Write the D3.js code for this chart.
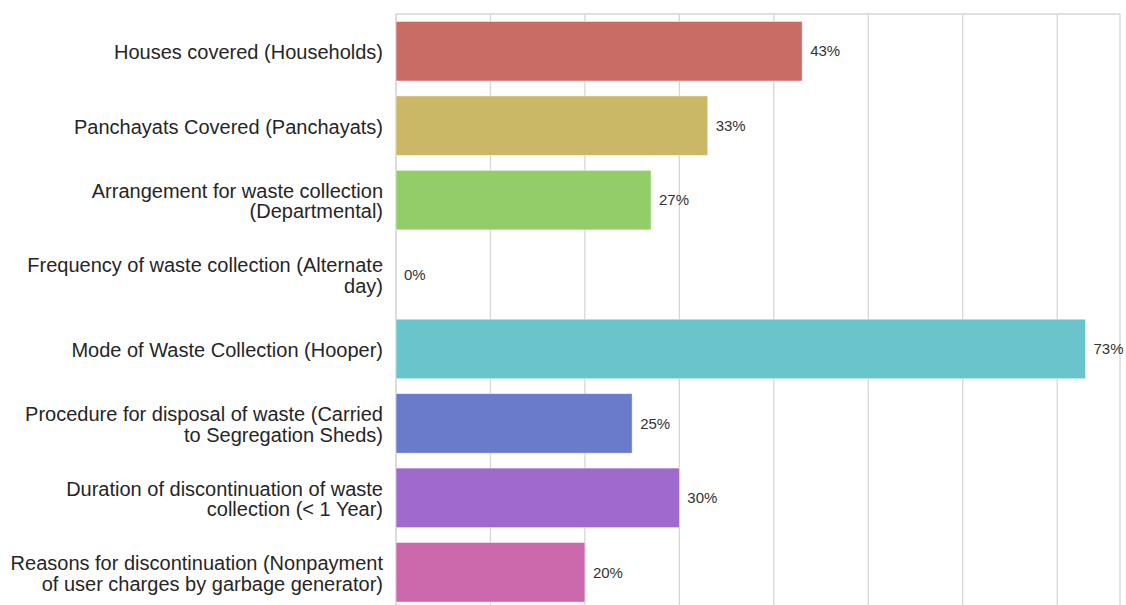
<!DOCTYPE html>
<html><head><meta charset="utf-8">
<script src="https://cdn.jsdelivr.net/npm/d3@7"></script>
<style>body{margin:0;background:#fff;} svg{display:block;}</style>
</head><body>
<svg id="chart" width="1126" height="605"></svg>
<script>
const categories = [
  ["Houses covered (Households)"],
  ["Panchayats Covered (Panchayats)"],
  ["Arrangement for waste collection", "(Departmental)"],
  ["Frequency of waste collection (Alternate", "day)"],
  ["Mode of Waste Collection (Hooper)"],
  ["Procedure for disposal of waste (Carried", "to Segregation Sheds)"],
  ["Duration of discontinuation of waste", "collection (< 1 Year)"],
  ["Reasons for discontinuation (Nonpayment", "of user charges by garbage generator)"]
];
const values = [43, 33, 27, 0, 73, 25, 30, 20];
const valueLabels = ["43%", "33%", "27%", "0%", "73%", "25%", "30%", "20%"];
const colors = ["#c96c66", "#cab866", "#93cd69", "#66cc8a", "#69c5cb", "#6a7bcc", "#a06acc", "#cb67ab"];
const xTicks = [0, 10, 20, 30, 40, 50, 60, 70];

const svg = d3.select("#chart");
const mLeft = 396, mRight = 1120, mTop = 14, mBottom = 609.5;
const x = d3.scaleLinear().domain([0, 76.65]).range([mLeft, mRight]);
const y = d3.scaleBand().domain(d3.range(categories.length)).range([mTop, mBottom]).paddingInner(0.2).paddingOuter(0.1);

// grid
svg.append("g").selectAll("line").data(xTicks).join("line")
  .attr("x1", d => x(d)).attr("x2", d => x(d))
  .attr("y1", mTop).attr("y2", 605)
  .attr("stroke", "#d6d6d6").attr("stroke-width", 1.3);

// frame
svg.append("line").attr("x1", mLeft).attr("x2", mRight).attr("y1", mTop).attr("y2", mTop).attr("stroke", "#d6d6d6").attr("stroke-width", 1.3);
svg.append("line").attr("x1", mRight).attr("x2", mRight).attr("y1", mTop).attr("y2", 605).attr("stroke", "#d6d6d6").attr("stroke-width", 1.3);
svg.append("line").attr("x1", mLeft).attr("x2", mLeft).attr("y1", mTop).attr("y2", 605).attr("stroke", "#d6d6d6").attr("stroke-width", 1.3);

// bars
svg.append("g").selectAll("rect").data(values).join("rect")
  .attr("x", x(0))
  .attr("y", (d, i) => y(i))
  .attr("width", d => x(d) - x(0))
  .attr("height", y.bandwidth())
  .attr("fill", (d, i) => colors[i])
  .attr("stroke", "#ffffff").attr("stroke-opacity", 0.6).attr("stroke-width", 0.8);

// value labels
svg.append("g").selectAll("text").data(values).join("text")
  .attr("x", d => x(d) + 8)
  .attr("y", (d, i) => y(i) + y.bandwidth() / 2)
  .attr("dy", "0.35em")
  .attr("font-family", "Liberation Sans, Arial, sans-serif")
  .attr("font-size", 15)
  .attr("fill", "#333333")
  .text((d, i) => valueLabels[i]);

// category labels
const lab = svg.append("g").selectAll("text").data(categories).join("text")
  .attr("x", mLeft - 13)
  .attr("y", (d, i) => y(i) + y.bandwidth() / 2)
  .attr("text-anchor", "end")
  .attr("font-family", "Liberation Sans, Arial, sans-serif")
  .attr("font-size", 20)
  .attr("fill", "#262626");
lab.each(function(d) {
  const t = d3.select(this);
  const n = d.length, lh = 20.5;
  d.forEach((line, k) => {
    t.append("tspan").attr("x", mLeft - 13)
      .attr("dy", k === 0 ? ((-(n - 1) * lh / 2) + 8) : lh)
      .text(line);
  });
});
</script>
</body></html>
